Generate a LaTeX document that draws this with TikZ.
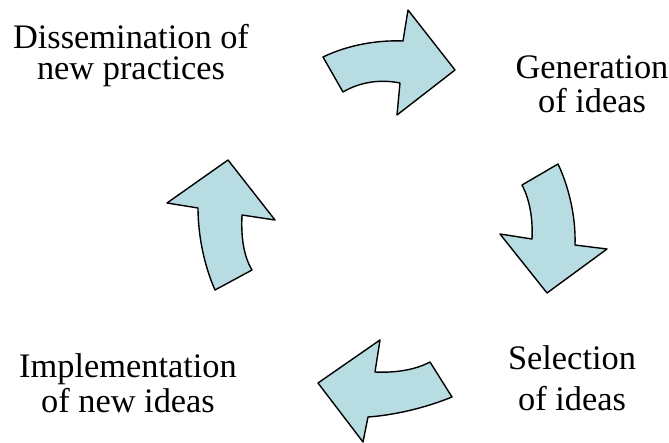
\documentclass[tikz,border=0pt]{standalone}
\usepackage{fontspec}
\setmainfont{Liberation Serif}
\definecolor{arrowfill}{RGB}{183,221,226}
\tikzset{
  stage/.style={align=center, inner sep=0pt, font=\fontsize{34.5}{35}\selectfont},
  bentarrow/.style={draw=black, fill=arrowfill, line width=1.4bp, line join=round}
}
\begin{document}
\begin{tikzpicture}[x=1bp,y=-1bp]
      \useasboundingbox (0,0) rectangle (669,443);
      %\draw [help lines] (0,0) grid (669,443);
      \node[stage, anchor=base] (dissemination) at (131,80) {Dissemination of\\[-3bp]new practices};
      \node[stage, anchor=base] (generation) at (592,113) {Generation\\of ideas};
      \node[stage, anchor=base] (selection) at (572,410) {Selection\\[6bp]of ideas};
      \node[stage, anchor=base] (implementation) at (128,412) {Implementation\\of new ideas};

      % top
      \draw[bentarrow] (323,57) .. controls (350,44) and (380,40) .. (403,41)
        -- (408,10) -- (455,70) -- (397,115) -- (400,83)
        .. controls (380,79) and (360,82) .. (343,92) -- cycle;
      % right
      \draw[bentarrow] (558,164) .. controls (568,185) and (576,215) .. (575,245)
        -- (607,249) -- (547,293) -- (500,234) -- (532,239)
        .. controls (533,220) and (530,200) .. (522,185) -- cycle;
      % bottom
      \draw[bentarrow] (452,397) .. controls (425,408) and (395,415) .. (368,417)
        -- (363,442) -- (318,383) -- (380,340) -- (375,372)
        .. controls (395,373) and (415,370) .. (430,362) -- cycle;
      % left
      \draw[bentarrow] (215,290) .. controls (204,265) and (198,235) .. (198,208)
        -- (167,203) -- (228,160) -- (275,220) -- (242,215)
        .. controls (241,235) and (243,255) .. (252,270) -- cycle;
    \end{tikzpicture}
\end{document}
